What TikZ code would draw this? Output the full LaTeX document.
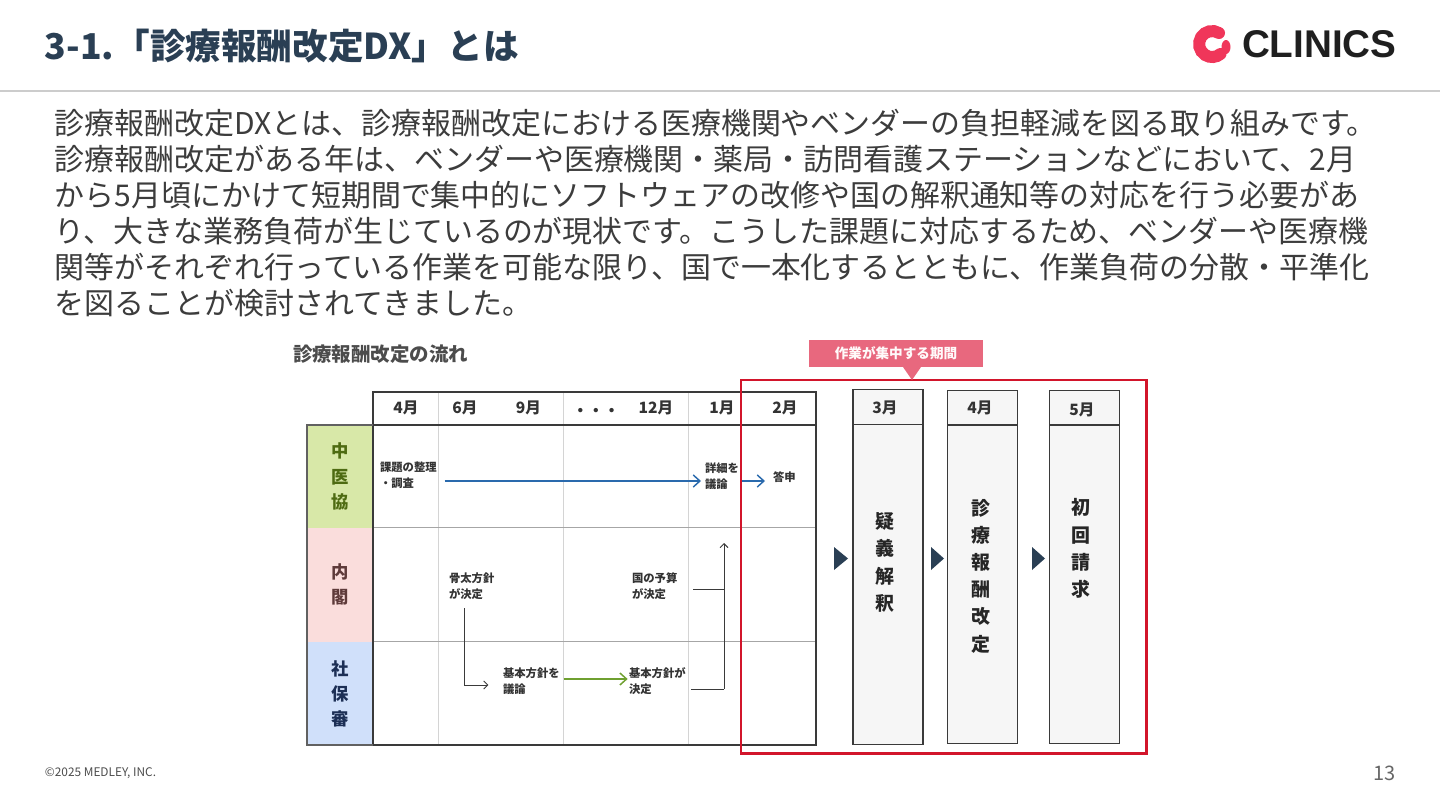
\documentclass[tikz,border=0pt]{standalone}
\usepackage{fontspec}
\setmainfont{Noto Sans CJK JP}
\newfontfamily\logofont{Liberation Sans}
\usepackage{tikz}
\usetikzlibrary{arrows.meta, positioning, calc}
\definecolor{navy}{HTML}{2A3F54}
\definecolor{bodygray}{HTML}{3C3C3C}
\definecolor{alertred}{HTML}{D2152B}
\definecolor{calloutpink}{HTML}{E8687E}
\definecolor{logopink}{HTML}{F0365A}
\definecolor{gridgray}{HTML}{D4D4D4}
\definecolor{edgegray}{HTML}{3A3A3A}
\definecolor{stagefill}{HTML}{F6F6F6}
\definecolor{rowgreen}{HTML}{D8E8A8}
\definecolor{rowred}{HTML}{FADDDC}
\definecolor{rowblue}{HTML}{D0E0FA}
\definecolor{rowgreentext}{HTML}{4E6B12}
\definecolor{rowredtext}{HTML}{5E3A3A}
\definecolor{rowbluetext}{HTML}{1C2F55}
\definecolor{arrowblue}{HTML}{2A6AAD}
\definecolor{arrowgreen}{HTML}{6FA030}

\begin{document}
\begin{tikzpicture}[
    x=0.75pt, y=-0.75pt,
    every node/.style={inner sep=0pt, outer sep=0pt},
    bodytext/.style={anchor=north west, align=left, text=bodygray, font=\fontsize{22.46}{27}\selectfont},
    month/.style={font=\bfseries\fontsize{11.7}{14}\selectfont, text=black!80},
    note/.style={anchor=west, align=left, text=black!80, font=\bfseries\fontsize{8.5}{11.8}\selectfont},
    rowlabel/.style={minimum width=49.5pt, align=center, font=\bfseries\fontsize{13}{18.8}\selectfont},
    headbox/.style={rectangle, draw=edgegray, fill=stagefill, line width=1pt, minimum width=52.5pt, minimum height=26pt},
    stagebox/.style={rectangle, draw=edgegray, fill=stagefill, line width=1pt, minimum width=52.5pt, minimum height=240pt},
    stagetext/.style={align=center, text=black!85, font=\bfseries\fontsize{14.2}{20.4}\selectfont},
    bluearrow/.style={-{Straight Barb[length=5pt, width=9pt]}, line width=1.1pt, draw=arrowblue},
    greenarrow/.style={-{Straight Barb[length=5pt, width=9pt]}, line width=1.1pt, draw=arrowgreen},
    blackarrow/.style={-{Straight Barb[length=3pt, width=6pt]}, line width=0.7pt, draw=edgegray},
    blackline/.style={line width=0.7pt, draw=edgegray},
    stepmark/.style={fill=navy}
]
\useasboundingbox (0,0) rectangle (1440,810);

% Header
\node[anchor=west, text=navy, font=\bfseries\fontsize{26.7}{30}\selectfont] (title) at (45,46) {3-1.「診療報酬改定DX」とは};
\draw[black!20, line width=1.2pt] (0,91) -- (1440,91);

% Logo
\draw[logopink, line width=9pt, line cap=round] (1219,33) arc[start angle=-58, end angle=-310, radius=13];
\fill[logopink] (1226,47) ellipse[x radius=4.5, y radius=7];
\node[anchor=west, text=black!88, font=\logofont\bfseries\fontsize{29}{30}\selectfont] (logo) at (1242,44) {CLINICS};

% Body
\node[bodytext] (body) at (55,109) {診療報酬改定DXとは、診療報酬改定における医療機関やベンダーの負担軽減を図る取り組みです。\\
診療報酬改定がある年は、ベンダーや医療機関・薬局・訪問看護ステーションなどにおいて、2月\\
から5月頃にかけて短期間で集中的にソフトウェアの改修や国の解釈通知等の対応を行う必要があ\\
り、大きな業務負荷が生じているのが現状です。こうした課題に対応するため、ベンダーや医療機\\
関等がそれぞれ行っている作業を可能な限り、国で一本化するとともに、作業負荷の分散・平準化\\
を図ることが検討されてきました。};

% Table heading
\node[anchor=west, text=black!70, font=\bfseries\fontsize{14.6}{18}\selectfont] (flow) at (293,354) {診療報酬改定の流れ};

% Row labels
\node[rowlabel, fill=rowgreen, text=rowgreentext, minimum height=76.5pt] (chuikyo) at (340,476.5) {中\\医\\協};
\node[rowlabel, fill=rowred, text=rowredtext, minimum height=85.5pt] (naikaku) at (340,584.5) {内\\閣};
\node[rowlabel, fill=rowblue, text=rowbluetext, minimum height=77.5pt] (shahoshin) at (340,694) {社\\保\\審};

% Grid
\foreach \gx in {438,563,688}
    \draw[gridgray, line width=0.7pt] (\gx,392) -- (\gx,745);
\draw[black!35, line width=0.6pt] (373,527) -- (816,527);
\draw[black!35, line width=0.6pt] (373,641.5) -- (816,641.5);
\draw[edgegray, line width=0.9pt] (373,425) -- (816,425);
\draw[edgegray, line width=0.9pt] (373,745) |- (816,392) -- (816,745) -- cycle;
\draw[edgegray!80, line width=0.9pt] (373,425) -- (307,425) -- (307,745) -- (373,745);

% Months
\node[month] (apr) at (406,407.5) {4月};
\node[month] (jun) at (465,407.5) {6月};
\node[month] (sep) at (528.5,407.5) {9月};
\node[month] (dots) at (596,412) {・・・};
\node[month] (dec) at (656,407.5) {12月};
\node[month] (jan) at (722,407.5) {1月};
\node[month] (feb) at (785,407.5) {2月};

% Notes
\node[note] (issues) at (380,475) {課題の整理\\・調査};
\node[note] (detail) at (705,476.5) {詳細を\\議論};
\node[note] (report) at (773,477.5) {答申};
\node[note] (honebuto) at (449,586.5) {骨太方針\\が決定};
\node[note] (budget) at (632,586.5) {国の予算\\が決定};
\node[note] (discuss) at (503,681) {基本方針を\\議論};
\node[note] (decide) at (629,681) {基本方針が\\決定};

% Connections
\coordinate (blue_y) at (0,481);
\coordinate (green_y) at (0,679);
\coordinate (riser) at (724,543);
\draw[bluearrow] ([xshift=6pt]issues.east |- blue_y) -- ([xshift=-3pt]detail.west |- blue_y);
\draw[bluearrow] (741,481) -- ([xshift=-6pt]report.west |- blue_y);
\draw[greenarrow] ([xshift=3pt]discuss.east |- green_y) -- ([xshift=-1pt]decide.west |- green_y);
\draw[blackarrow] (464.5,608) |- ([xshift=-11pt]discuss.west |- 0,685);
\draw[blackarrow] (riser |- 0,689) -- (riser);
\draw[blackline] ([xshift=4pt]decide.east |- 0,689) -- (724,689);
\draw[blackline] (693,589) -- (724,589);

% Stages
\node[headbox] (head3) at (888,407) {};
\node[headbox] (head4) at (982.75,407.5) {};
\node[headbox] (head5) at (1084.75,407.5) {};
\node[stagebox, below=0pt of head3] (stage3) {};
\node[stagebox, below=0pt of head4, minimum height=239pt] (stage4) {};
\node[stagebox, below=0pt of head5, minimum height=239pt] (stage5) {};
\node[month] at (885,407.5) {3月};
\node[month] at (980,407.5) {4月};
\node[month] at (1082,409.5) {5月};
\node[stagetext] (qa) at (885,562.5) {疑\\義\\解\\釈};
\node[stagetext] (revision) at (981,576) {診\\療\\報\\酬\\改\\定};
\node[stagetext] (claim) at (1081,548.5) {初\\回\\請\\求};
\fill[stepmark] (834,547) -- (848,558.5) -- (834,570) -- cycle;
\fill[stepmark] (931,547) -- (944,558.5) -- (931,570) -- cycle;
\fill[stepmark] (1032,547) -- (1045,558.5) -- (1032,570) -- cycle;

% Focus period
\draw[alertred, line width=1.6pt] (741,380) rectangle (1146.5,753.5);
\fill[calloutpink] (809,339.5) rectangle (982.5,367);
\fill[calloutpink] (903,367) -- (921,367) -- (912,380) -- cycle;
\node[text=white!92!pink, font=\bfseries\fontsize{10.2}{12}\selectfont] (focus) at (896,353.5) {作業が集中する期間};

% Footer
\node[anchor=west, text=black!70, font=\fontsize{8.9}{10}\selectfont] (copy) at (45,773) {©2025 MEDLEY, INC.};
\node[anchor=east, text=black!60, font=\fontsize{15}{18}\selectfont] (page) at (1395.5,773) {13};
\end{tikzpicture}
\end{document}
